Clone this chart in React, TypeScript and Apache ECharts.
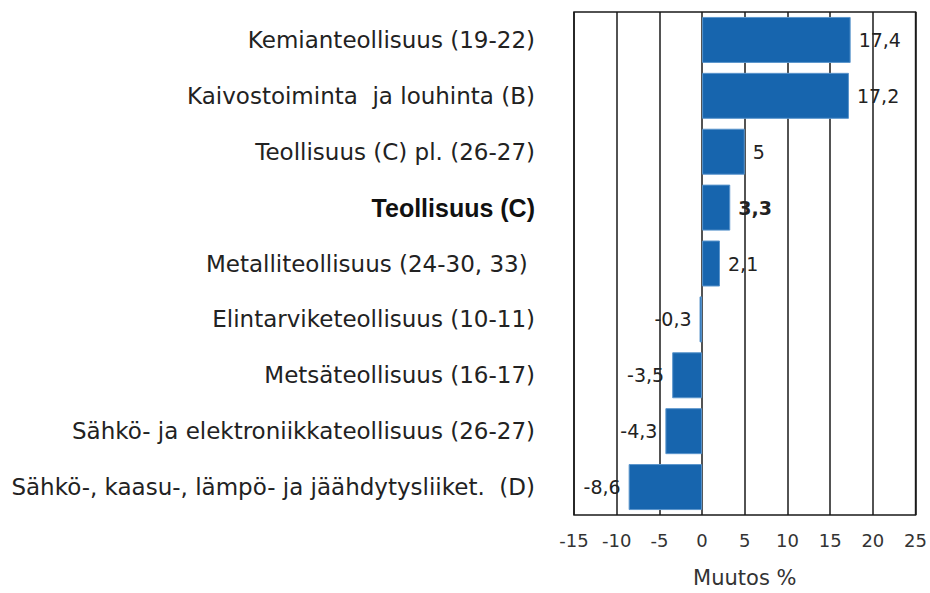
import React, { useEffect, useRef } from "react";
import * as echarts from "echarts";

const categories = [
  "Kemianteollisuus (19-22)",
  "Kaivostoiminta  ja louhinta (B)",
  "Teollisuus (C) pl. (26-27)",
  "Teollisuus (C)",
  "Metalliteollisuus (24-30, 33) ",
  "Elintarviketeollisuus (10-11)",
  "Metsäteollisuus (16-17)",
  "Sähkö- ja elektroniikkateollisuus (26-27)",
  "Sähkö-, kaasu-, lämpö- ja jäähdytysliiket.  (D)",
];
const values = [17.4, 17.2, 5, 3.3, 2.1, -0.3, -3.5, -4.3, -8.6];
const boldCategory = "Teollisuus (C)";
const axisName = "Muutos %";

export default function App() {
  const ref = useRef<HTMLDivElement>(null);
  useEffect(() => {
    if (!ref.current) return;
    const chart = echarts.init(ref.current, null, { renderer: "svg" });
    const font = "'DejaVu Sans', Verdana, sans-serif";
    chart.setOption({
      animation: false,
      grid: {
        left: 574,
        top: 12,
        width: 345,
        height: 509,
        show: true,
        borderColor: "#1a1a1a",
        borderWidth: 1.5,
        containLabel: false,
      },
      xAxis: {
        type: "value",
        min: -15,
        max: 25,
        interval: 5,
        name: axisName,
        nameLocation: "middle",
        nameGap: 52,
        nameTextStyle: { fontSize: 21, color: "#333", fontFamily: font },
        axisLine: { show: false },
        axisTick: { show: false },
        axisLabel: { fontSize: 18, color: "#333", fontFamily: font, margin: 16 },
        splitLine: { show: true, lineStyle: { color: "#1a1a1a", width: 1.5 } },
      },
      yAxis: {
        type: "category",
        data: categories,
        inverse: true,
        axisLine: { show: false },
        axisTick: { show: false },
        splitLine: { show: false },
        axisLabel: {
          fontSize: 23,
          color: "#222",
          fontFamily: font,
          margin: 39,
          formatter: (v: string) => (v === boldCategory ? `{b|${v}}` : v),
          rich: {
            b: {
              fontSize: 25,
              fontWeight: "bold",
              color: "#111",
              fontFamily: "'Liberation Sans', Arial, sans-serif",
            },
          },
        },
      },
      series: [
        {
          type: "bar",
          data: values.map((v, i) => ({
            value: v,
            label: {
              position: v < 0 ? "left" : "right",
              fontWeight: categories[i] === boldCategory ? "bold" : "normal",
            },
          })),
          barWidth: 46,
          itemStyle: { color: "#1765AE", borderColor: "#5b95cc", borderWidth: 1 },
          label: {
            show: true,
            distance: 8,
            fontSize: 19,
            color: "#222",
            fontFamily: font,
            formatter: (p: any) => String(p.value).replace(".", ","),
          },
        },
      ],
    });
    return () => chart.dispose();
  }, []);
  return (
    <div
      ref={ref}
      style={{ position: "fixed", left: 0, top: 0, width: 930, height: 593, background: "#fff" }}
    />
  );
}
